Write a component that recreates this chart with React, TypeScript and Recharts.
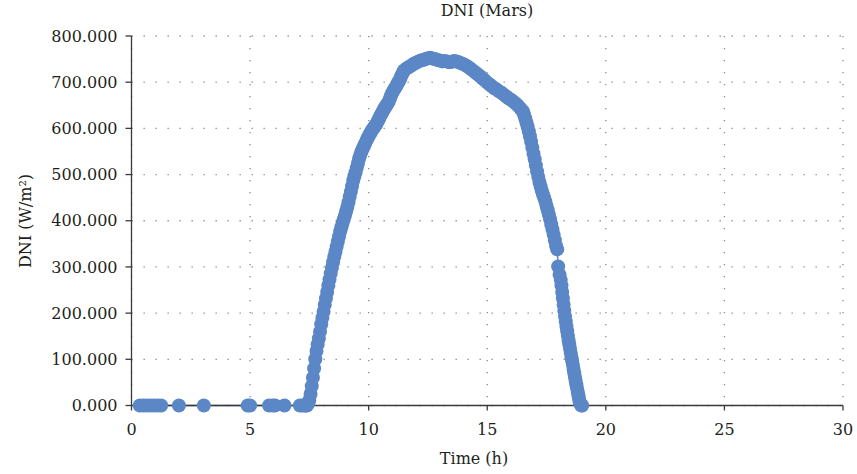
import { LineChart, Line, XAxis, YAxis, CartesianGrid } from "recharts"

const BLUE = "#5b87c6"
const FONT = "'DejaVu Serif', serif"

// hours of the sol
const hours = [
  0.35, 0.5, 0.65, 0.8, 0.95, 1.1, 1.25, 2.0, 3.05, 4.9, 5.0, 5.8, 5.95, 6.05, 6.45, 7.1, 7.2, 7.3, 7.35,
  7.4, 7.45, 7.5, 7.55, 7.6, 7.65, 7.7, 7.75, 7.8, 7.85, 7.9, 7.95, 8.0, 8.05, 8.1, 8.15, 8.2, 8.25, 8.3,
  8.35, 8.4, 8.45, 8.5, 8.55, 8.6, 8.65, 8.7, 8.75, 8.8, 8.85, 8.9, 8.95, 9.0, 9.05, 9.1, 9.15, 9.2, 9.25,
  9.3, 9.35, 9.4, 9.45, 9.5, 9.55, 9.6, 9.65, 9.7, 9.75, 9.8, 9.85, 9.9, 9.95, 10.0, 10.05, 10.1, 10.15,
  10.2, 10.25, 10.3, 10.35, 10.4, 10.45, 10.5, 10.55, 10.6, 10.65, 10.7, 10.75, 10.8, 10.85, 10.9, 10.95,
  11.0, 11.05, 11.1, 11.15, 11.2, 11.25, 11.3, 11.35, 11.4, 11.45, 11.5, 11.6, 11.7, 11.8, 11.9, 12.0,
  12.1, 12.2, 12.3, 12.4, 12.5, 12.6, 12.7, 12.8, 12.9, 13.0, 13.1, 13.2, 13.3, 13.4, 13.5, 13.6, 13.7,
  13.8, 13.9, 14.0, 14.1, 14.2, 14.3, 14.4, 14.5, 14.6, 14.7, 14.8, 14.9, 15.0, 15.1, 15.2, 15.3, 15.4,
  15.5, 15.6, 15.7, 15.8, 15.9, 16.0, 16.1, 16.2, 16.3, 16.4, 16.5, 16.55, 16.6, 16.65, 16.7, 16.75, 16.8,
  16.85, 16.9, 16.95, 17.0, 17.05, 17.1, 17.15, 17.2, 17.25, 17.3, 17.35, 17.4, 17.45, 17.5, 17.55, 17.6,
  17.65, 17.7, 17.75, 17.8, 17.85, 17.9, 17.95, 17.99, 18.05, 18.1, 18.13, 18.16, 18.19, 18.22, 18.25,
  18.28, 18.31, 18.34, 18.37, 18.4, 18.43, 18.46, 18.49, 18.52, 18.55, 18.58, 18.61, 18.64, 18.67, 18.7,
  18.73, 18.76, 18.79, 18.82, 18.85, 18.88, 18.91, 18.94, 18.97, 19.0, 23.8,
]

// DNI in W/m², same order as hours
const dni = [
  0, 0, 0, 0, 0, 0, 0, 0, 0, 0, 0, 0, 0, 0, 0, 0, 0, 0, 0,
  0, 4, 12, 25, 42, 60, 80, 100, 118, 132, 145, 160, 176, 190, 203, 218, 232, 246, 260,
  273, 286, 298, 310, 322, 333, 344, 355, 366, 377, 386, 395, 403, 411, 420, 430, 440, 452,
  463, 475, 487, 497, 505, 515, 525, 535, 543, 550, 556, 562, 567, 573, 578, 583, 588, 592,
  597, 600, 604, 607, 612, 617, 622, 628, 632, 637, 642, 646, 650, 654, 658, 665,
  672, 677, 682, 686, 690, 695, 700, 704, 710, 716, 721, 726, 730, 733, 736, 740,
  742, 745, 747, 748, 750, 752, 753, 751, 750, 748, 747, 745, 746, 745, 743, 744, 746,
  745, 743, 741, 739, 736, 733, 729, 725, 721, 717, 713, 708, 704, 699, 695, 691, 687,
  684, 680, 677, 673, 669, 665, 662, 658, 654, 649, 643, 637, 630, 622, 613, 604, 594,
  583, 571, 558, 545, 533, 520, 507, 495, 484, 474, 465, 457, 450, 442, 432, 423,
  413, 403, 392, 381, 370, 358, 346, 338, 301, 283, 272, 260, 246, 232, 218,
  205, 193, 182, 171, 161, 151, 141, 132, 123, 114, 105, 97, 88, 79, 70,
  61, 52, 44, 36, 28, 20, 12, 6, 2, 0, 0,
]

const xTicks = [0, 5, 10, 15, 20, 25, 30]
const yTicks = [0, 100, 200, 300, 400, 500, 600, 700, 800]

const data = hours.map((t, i) => ({ t, dni: dni[i] }))

const tickStyle = { fontFamily: FONT, fontSize: 16, fill: "#231f20" }

export default function App() {
  return (
    <div style={{ position: "absolute", left: 0, top: 0, width: 857, height: 474, background: "#fff" }}>
      <LineChart width={857} height={474} data={data} margin={{ top: 36, right: 14, bottom: 38.5, left: 0 }}>
        <CartesianGrid stroke="#8a8a8a" strokeWidth={1.3} strokeDasharray="1.3 10.7" />
        <XAxis
          type="number"
          dataKey="t"
          domain={[0, 30]}
          ticks={xTicks}
          height={30}
          tick={tickStyle}
          tickSize={5}
          tickMargin={13}
          stroke="#3a3a3a"
          strokeWidth={1.3}
          allowDataOverflow
        />
        <YAxis
          type="number"
          domain={[0, 800]}
          ticks={yTicks}
          width={131.5}
          tick={tickStyle}
          tickSize={6}
          tickMargin={8}
          stroke="#3a3a3a"
          strokeWidth={1.3}
          tickFormatter={(v: number) => v.toFixed(3)}
        />
        <Line
          type="linear"
          dataKey="dni"
          stroke={BLUE}
          strokeWidth={1.5}
          dot={{ r: 7, fill: BLUE, stroke: "none" }}
          activeDot={false}
          isAnimationActive={false}
        />
      </LineChart>
      <svg
        width={857}
        height={474}
        style={{ position: "absolute", left: 0, top: 0, pointerEvents: "none" }}
      >
        <text x={487} y={16} textAnchor="middle" fontFamily={FONT} fontSize={16} fill="#231f20">
          DNI (Mars)
        </text>
        <text x={474} y={464} textAnchor="middle" fontFamily={FONT} fontSize={16} fill="#231f20">
          Time (h)
        </text>
        <text
          transform="translate(31,221) rotate(-90)"
          textAnchor="middle"
          fontFamily={FONT}
          fontSize={16}
          fill="#231f20"
        >
          DNI (W/m²)
        </text>
      </svg>
    </div>
  )
}
